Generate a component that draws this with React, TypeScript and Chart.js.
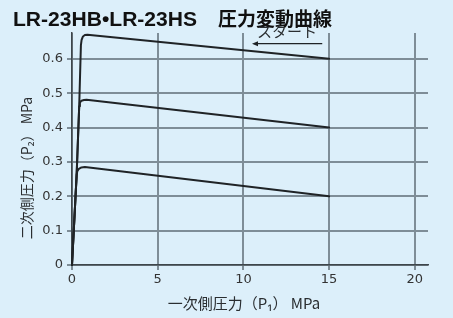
import React, { useEffect, useRef } from "react";
import { Chart, registerables } from "chart.js";

Chart.register(...registerables);

const xTicks = [0, 5, 10, 15, 20];
const yTicks = [0, 0.1, 0.2, 0.3, 0.4, 0.5, 0.6];
const xMax = 20.77;
const yMax = 0.675;

// P2 = 0.2 MPa setting
const curveLow: [number, number][] = [
  [0, 0], [0.27, 0.262], [0.31, 0.273], [0.4, 0.28], [0.55, 0.284], [0.75, 0.285], [15, 0.2],
];
// P2 = 0.4 MPa setting
const curveMid: [number, number][] = [
  [0, 0], [0.27, 0.262], [0.42, 0.462], [0.46, 0.472], [0.55, 0.478], [0.7, 0.48], [0.85, 0.481], [15, 0.4],
];
// P2 = 0.6 MPa setting
const curveHigh: [number, number][] = [
  [0, 0], [0.27, 0.262], [0.42, 0.462], [0.52, 0.64], [0.56, 0.655], [0.64, 0.665], [0.75, 0.669], [0.9, 0.67], [15, 0.6],
];

const arrowFromX = 14.6;
const arrowToX = 10.5;
const arrowY = 0.644;
const startLabel = "スタート";
const startLabelX = 12.55;
const startLabelY = 0.68;

const titleLatin = "LR-23HB•LR-23HS";
const titleJp = "圧力変動曲線";
const xTitle = "一次側圧力（P₁） MPa";
const yTitle = "二次側圧力（P₂） MPa";

const BG = "#dcEFFA";
const GRID = "#7e8d97";
const AXIS = "#3e464b";
const LINE = "#1f2326";
const JP = '"Noto Sans CJK JP", "Noto Sans", sans-serif';

export default function App() {
  const ref = useRef<HTMLCanvasElement | null>(null);
  useEffect(() => {
    document.body.style.margin = "0";
    document.body.style.background = BG;
    const toPts = (a: [number, number][]) => a.map(([x, y]) => ({ x, y }));
    const bgPlugin = {
      id: "bg",
      beforeDraw(chart: any) {
        const ctx = chart.ctx;
        ctx.save();
        ctx.fillStyle = BG;
        ctx.fillRect(0, 0, chart.width, chart.height);
        ctx.restore();
      },
    };
    const overlay = {
      id: "overlay",
      afterDraw(chart: any) {
        const ctx = chart.ctx;
        const xs = chart.scales.x;
        const ys = chart.scales.y;
        ctx.save();
        // main title
        ctx.fillStyle = "#111";
        ctx.textBaseline = "middle";
        ctx.textAlign = "left";
        ctx.save();
        ctx.font = 'bold 21px "Liberation Sans", Arial, sans-serif';
        const w = ctx.measureText(titleLatin).width;
        ctx.translate(13, 20);
        ctx.scale(184 / w, 1);
        ctx.fillText(titleLatin, 0, 0);
        ctx.restore();
        ctx.font = "bold 19px " + JP;
        ctx.fillText(titleJp, 218, 19);
        // axis titles
        ctx.fillStyle = "#2a2e31";
        ctx.font = "15px " + JP;
        ctx.textAlign = "center";
        ctx.fillText(xTitle, 244, 303);
        ctx.save();
        ctx.translate(27, 168);
        ctx.rotate(-Math.PI / 2);
        ctx.font = "14px " + JP;
        ctx.fillText(yTitle, 0, 0);
        ctx.restore();
        // start annotation
        const ax1 = xs.getPixelForValue(arrowFromX);
        const ax2 = xs.getPixelForValue(arrowToX);
        const ay = ys.getPixelForValue(arrowY);
        ctx.strokeStyle = LINE;
        ctx.fillStyle = LINE;
        ctx.lineWidth = 1.3;
        ctx.beginPath();
        ctx.moveTo(ax1, ay);
        ctx.lineTo(ax2 + 4, ay);
        ctx.stroke();
        ctx.beginPath();
        ctx.moveTo(ax2, ay);
        ctx.lineTo(ax2 + 6, ay - 2.5);
        ctx.lineTo(ax2 + 6, ay + 2.5);
        ctx.closePath();
        ctx.fill();
        ctx.fillStyle = "#2a2e31";
        ctx.font = "15px " + JP;
        ctx.textAlign = "center";
        ctx.textBaseline = "middle";
        ctx.fillText(startLabel, xs.getPixelForValue(startLabelX), ys.getPixelForValue(startLabelY));
        ctx.restore();
      },
    };
    const ds = (d: [number, number][]) => ({
      data: toPts(d),
      borderColor: LINE,
      borderWidth: 2,
      pointRadius: 0,
      tension: 0,
      clip: false as any,
      borderJoinStyle: "round" as const,
      borderCapStyle: "round" as const,
    });
    const chart = new Chart(ref.current!, {
      type: "line",
      data: { datasets: [ds(curveLow), ds(curveMid), ds(curveHigh)] },
      options: {
        animation: false,
        responsive: false,
        layout: { padding: { top: 33, right: 25, left: 0, bottom: 0 } },
        plugins: { legend: { display: false }, tooltip: { enabled: false }, title: { display: false } },
        scales: {
          x: {
            type: "linear",
            min: 0,
            max: xMax,
            afterBuildTicks: (s: any) => { s.ticks = xTicks.map((v) => ({ value: v })); },
            afterFit: (s: any) => { s.height = 53; },
            grid: { color: GRID, lineWidth: 2, tickLength: 5, drawTicks: true },
            border: { color: AXIS, width: 1.5 },
            ticks: { color: "#333", font: { family: '"DejaVu Sans", sans-serif', size: 13 }, padding: 2, maxRotation: 0 },
          },
          y: {
            type: "linear",
            min: 0,
            max: yMax,
            afterBuildTicks: (s: any) => { s.ticks = yTicks.map((v) => ({ value: v })); },
            afterFit: (s: any) => { s.width = 72; },
            grid: { color: GRID, lineWidth: 2, tickLength: 5, drawTicks: true },
            border: { color: AXIS, width: 1.5 },
            ticks: {
              color: "#333",
              font: { family: '"DejaVu Sans", sans-serif', size: 13 },
              padding: 4,
              callback: (v: any) => String(Math.round(Number(v) * 10) / 10),
            },
          },
        },
      },
      plugins: [bgPlugin, overlay],
    });
    return () => chart.destroy();
  }, []);
  return (
    <div style={{ position: "fixed", left: 0, top: 0, width: 453, height: 318, background: BG }}>
      <canvas ref={ref} width={453} height={318} style={{ width: 453, height: 318, display: "block" }} />
    </div>
  );
}
